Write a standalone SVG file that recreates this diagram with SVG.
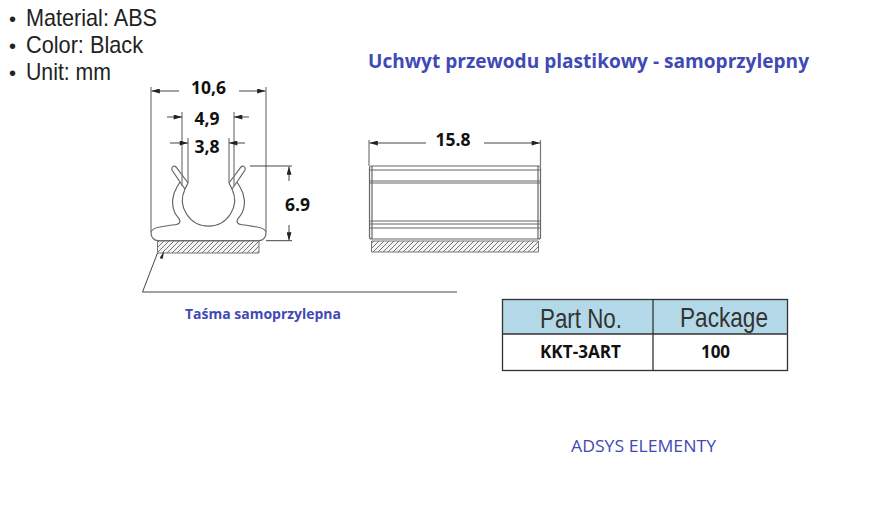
<svg xmlns="http://www.w3.org/2000/svg" width="873" height="532" viewBox="0 0 873 532">
<style>
text{font-family:"Open Sans","Liberation Sans",sans-serif}
.spec{font-family:"Liberation Sans",Arial,sans-serif;font-size:24px;fill:#222}
.dim{font-weight:700;font-size:17.500px;fill:#111;text-anchor:middle}
.blue{fill:#3f4ab5}
.thin{fill:none;stroke:#444;stroke-width:1}
.grey{fill:none;stroke:#777;stroke-width:1.2}
.draw{fill:none;stroke:#666;stroke-width:1.2}
.arr{fill:none;stroke:#444;stroke-width:1;marker-end:url(#ah)}
.hatch{fill:url(#h);stroke:#777;stroke-width:1}
.head{font-family:"Liberation Sans",Arial,sans-serif;font-size:28px;fill:#333;text-anchor:middle}
.cell{font-weight:700;font-size:17px;fill:#111;text-anchor:middle}
</style>
<defs>
<marker id="ah" viewBox="0 0 10 6" refX="10" refY="3" markerWidth="10" markerHeight="5" markerUnits="userSpaceOnUse" orient="auto"><path d="M0 0L10 3L0 6z" fill="#222"/></marker>
<pattern id="h" width="5" height="5" patternUnits="userSpaceOnUse"><rect width="5" height="5" fill="#f4f4f4"/><path d="M-1 1L1 -1M0 5L5 0M4 6L6 4" stroke="#666" stroke-width=".9"/></pattern>
</defs>
<rect width="873" height="532" fill="#fff"/>
<g id="specs">
<text class="spec" y="26"><tspan x="9" font-size="20">•</tspan><tspan x="26" textLength="131" lengthAdjust="spacingAndGlyphs">Material: ABS</tspan></text>
<text class="spec" y="53"><tspan x="9" font-size="20">•</tspan><tspan x="26" textLength="117" lengthAdjust="spacingAndGlyphs">Color: Black</tspan></text>
<text class="spec" y="80"><tspan x="9" font-size="20">•</tspan><tspan x="26" textLength="85" lengthAdjust="spacingAndGlyphs">Unit: mm</tspan></text>
</g>
<g id="title"><text class="blue" x="368" y="68" font-size="20" font-weight="700" textLength="441" lengthAdjust="spacingAndGlyphs">Uchwyt przewodu plastikowy - samoprzylepny</text></g>
<g id="clip-front">
<path class="draw" d="M185 189L180 182L172 170C171 167 174 165 176 167L188 183M229 183L241 167C243 165 246 167 245 170L237 182L232 189"/>
<path class="draw" d="M180 182L177 187C172 195 171 205 175 213C177 217 180 219 180 221C180 224 176 225 172 225L160 227C154 228 151 230 151 233C151 237 154 240.700 158 240.700H259C263 240.700 266 237 266 233C266 230 263 228 257 227L245 225C241 225 237 224 237 221C237 219 240 217 242 213C246 205 245 195 240 187L237 182"/>
<path class="draw" d="M188 183L185 189A26 26 0 1 0 232 189L229 183"/>
<path class="hatch" d="M157.500 241H259V253H157.500z"/>
</g>
<g id="clip-side">
<rect class="draw" x="369.500" y="166" width="171" height="73" rx="2"/>
<path class="draw" d="M369.500 170H540.500M369.500 181H540.500M369.500 183H540.500M369.500 221H540.500M369.500 224H540.500M369.500 228H540.500M372 166V239M538 166V239"/>
<path class="hatch" d="M371.500 241H538.500V252H371.500z"/>
</g>
<g id="connectors">
<path class="grey" d="M151 87V232M266 87V232M182 112V186M234 112V186M188 138V183M229 138V183M369 140V166M540.500 140V166"/>
<path class="arr" d="M179 91H151.500"/><path class="arr" d="M239 91H265.500"/>
<path class="arr" d="M167 117H182"/><path class="arr" d="M249 117H234"/>
<path class="arr" d="M170 143H188"/><path class="arr" d="M245 143H229"/>
<path class="arr" d="M426 143H369.500"/><path class="arr" d="M484 143H540"/>
<path class="thin" d="M250 166H292M266 240.700H292"/>
<path class="arr" d="M289 181V166.500"/><path class="arr" d="M289 225V240.500"/>
<path class="thin" d="M157.500 253L142.500 292H457"/>
<path d="M160 258L163.500 252.500L162.500 258.500z" fill="#222" stroke="#222" stroke-width=".6"/>
</g>
<g id="dims">
<text class="dim" x="208.500" y="94">10,6</text>
<text class="dim" x="207" y="125">4,9</text>
<text class="dim" x="207" y="153">3,8</text>
<text class="dim" x="297.500" y="211">6.9</text>
<text class="dim" x="453" y="146">15.8</text>
</g>
<g id="tape-label"><text class="blue" x="185" y="319" font-size="14" font-weight="700" textLength="156" lengthAdjust="spacingAndGlyphs">Taśma samoprzylepna</text></g>
<g id="table">
<rect x="502.500" y="299.500" width="285" height="34.500" fill="#b3d9e9"/>
<rect x="502.500" y="299.500" width="285" height="71" fill="none" stroke="#333" stroke-width="1.300"/>
<path d="M502.500 334H787.500M653 299.500V370.500" stroke="#333" stroke-width="1.300"/>
<text class="head" x="581" y="328" textLength="82" lengthAdjust="spacingAndGlyphs">Part No.</text>
<text class="head" x="724" y="327" textLength="88" lengthAdjust="spacingAndGlyphs">Package</text>
<text class="cell" x="580.500" y="358" textLength="81" lengthAdjust="spacingAndGlyphs">KKT-3ART</text>
<text class="cell" x="715.500" y="358">100</text>
</g>
<g id="footer"><text class="blue" x="571" y="452" font-size="16" textLength="145" lengthAdjust="spacingAndGlyphs">ADSYS ELEMENTY</text></g>
</svg>
